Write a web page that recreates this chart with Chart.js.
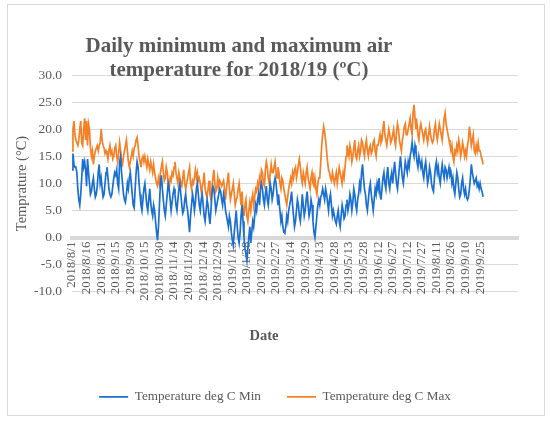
<!DOCTYPE html>
<html>
<head>
<meta charset="utf-8">
<script src="https://cdn.jsdelivr.net/npm/chart.js@4.4.0/dist/chart.umd.min.js"></script>
<style>
  html, body { margin: 0; padding: 0; background: #fff; }
</style>
</head>
<body>
<canvas id="chart" width="550" height="421"></canvas>
<script>
// labels shown every 15th day on the category axis
const tickLabels = ['2018/8/1', '2018/8/16', '2018/8/31', '2018/9/15', '2018/9/30', '2018/10/15', '2018/10/30',
    '2018/11/14', '2018/11/29', '2018/12/14', '2018/12/29', '2019/1/13', '2019/1/28', '2019/2/12', '2019/2/27',
    '2019/3/14', '2019/3/29', '2019/4/13', '2019/4/28', '2019/5/13', '2019/5/28', '2019/6/12', '2019/6/27',
    '2019/7/12', '2019/7/27', '2019/8/11', '2019/8/26', '2019/9/10', '2019/9/25']

// daily values from 2018/8/1 (15 days per row)
const minTemp = [
    12.5, 15.5, 13.5, 13, 13, 12, 9, 7, 6, 8, 11, 14.5, 13, 14, 12.5,
    9.5, 14.5, 12, 10, 8, 8.5, 10, 11, 9, 7.5, 8, 9.5, 12, 13.5, 10,
    11, 9, 7.5, 8, 10, 12, 13, 11, 9, 8, 7.5, 8, 9.5, 11, 12,
    11.5, 12.5, 10, 9, 14, 15, 12, 10, 8, 7, 6.5, 8, 10, 9, 11,
    12, 10, 8, 6, 5.5, 9, 12, 14, 13, 10, 8, 6, 5, 7, 9,
    10, 8, 6, 5, 7, 9, 6.5, 5, 4, 6, 5, 3, 1, -0.5, 2,
    6, 10, 11.5, 9, 7, 5, 4, 6, 8, 10, 9, 7, 5, 6.5, 8,
    9, 8, 6, 5, 7, 9, 10, 8, 6, 4.5, 5, 7, 8, 6, 5,
    3, 1, 4, 6, 8, 7, 5, 6.5, 9, 10, 8, 6, 5, 7, 8,
    6, 4, 3, 5, 7, 6, 4, 2.5, 5, 8, 9.5, 9, 7, 5, 6,
    7, 8, 9, 8.5, 7, 6, 8, 7, 5, 4, 3, 2, 4, 3, 1,
    -0.5, -1.5, 1, 3, 5, 2, 0, -1, 1, 4, 6, 3, 0, -2, -3,
    -4.3, -2, 0, 2, -1, 1, 3, 2, 4, 6, 5, 7, 8, 6, 9,
    10, 9, 7, 6, 8, 9.5, 7, 6, 8, 10, 9, 7, 8, 10, 11,
    10, 8, 6, 7, 5, 3, 4, 2, 1, 0.8, 2, 4, 3, 5, 6,
    7, 8.5, 6, 4, 2, 3, 5, 7, 6, 4, 3, 5, 8, 6, 4,
    5, 7, 8.5, 6, 4, 5, 7, 6, 3, 1, 0, 2, 4, 6, 7,
    6, 7.5, 8, 9, 8, 7, 9, 8, 6.5, 5, 7, 8, 6, 4, 5,
    4, 3, 2.5, 4, 5, 3, 2, 4, 6, 5, 3.5, 4, 6, 7, 5,
    6, 8, 7, 5, 6.5, 9, 8, 6, 5, 7, 8, 10, 9, 12, 13.5,
    11, 9, 8, 6, 5, 7, 9, 10, 8, 6.5, 5, 7, 9, 8, 10,
    9, 11, 8, 7, 9, 11, 12, 10, 9, 11.5, 13, 10, 9, 11, 12,
    10, 12, 14, 12, 10, 9, 11, 13, 15, 13, 11, 10, 12, 14, 13,
    12, 14, 13, 15, 16, 17.5, 16, 15, 17, 16, 14, 13, 15, 14, 13,
    14, 12, 11, 13, 14, 12, 10, 11, 13, 12, 10, 9, 8.5, 11, 13,
    14, 12, 13, 11, 10, 12, 13.5, 12, 11, 13, 12.5, 11, 12, 13, 11.5,
    12, 10, 11, 9, 8, 10, 12, 11, 9, 7.5, 8, 10, 11, 9, 8,
    9, 7.5, 7, 7.5, 9, 11, 13.5, 12, 11, 10, 10.5, 11, 9.5, 10, 9,
    10, 9, 8.5, 7.5
]
const maxTemp = [
    16, 20, 21.5, 19, 18, 17.5, 17, 18, 20, 21.5, 17.5, 17, 20, 22, 18,
    21.5, 17, 21, 20, 16.5, 15, 16, 13.5, 15, 16, 16.5, 17, 16, 17, 17.5,
    20, 18, 17, 16.5, 15.5, 16, 15.5, 14.5, 16, 17, 15.5, 16, 14.5, 15, 16.5,
    17, 15, 14, 15.5, 17.5, 16, 14, 13.5, 15, 16, 17, 18, 16, 14, 13,
    14, 15, 16, 15, 16.5, 17, 18, 18.5, 17, 15, 14, 13, 14.5, 15, 14,
    15, 14, 13, 14.5, 13.5, 12.5, 14, 13, 12, 13.5, 12, 11, 10, 9.5, 11,
    10, 12, 13, 14, 12, 10.5, 11, 13, 12, 10, 9, 11, 10.5, 12, 11.5,
    13, 14, 12, 11, 10, 12, 11, 10, 9.5, 11, 12.5, 10, 9, 10, 11,
    12, 13, 10, 9, 10.5, 10, 11, 12.5, 11, 12, 10.5, 11, 10, 8.5, 9.5,
    10, 12, 9, 8, 7.5, 9, 10.5, 8, 7, 9, 11, 12.5, 10, 8.5, 9,
    11, 9.5, 10.5, 10, 9.5, 10, 10.5, 9, 7, 9, 10.5, 12, 9, 7, 8,
    9, 10, 8, 6, 7, 7.5, 9, 10, 8, 6, 8.5, 5, 4, 6, 7,
    4, 3, 5, 6.5, 5, 7, 8, 6, 7.5, 9, 8.5, 10, 9, 11, 10,
    12.5, 12, 10, 9.5, 12.5, 14, 13, 11, 10, 12, 13.5, 12, 12, 13, 14,
    12, 11, 13, 12, 10, 9, 11, 10.5, 9, 8, 7, 6, 7.5, 9, 10,
    11, 10, 12, 11, 12.5, 13, 11, 12, 13.5, 14.5, 13, 11, 10, 12, 11,
    10, 12, 13, 11, 10, 9, 11, 12, 10, 9.5, 11, 9, 8, 10, 11,
    11, 14, 17, 19, 20.5, 19.5, 18, 16, 14, 12.5, 12, 11, 10.5, 12, 11,
    10, 11, 12, 10, 11.5, 13, 12, 11, 10, 12, 11, 13, 15, 17, 16,
    15, 17, 16, 14, 15, 16.5, 18, 15, 14.5, 16, 17, 15, 16, 18, 17.5,
    16, 15, 17, 18, 16, 15, 16.5, 17, 15.5, 16, 17.5, 18, 16, 15, 17,
    17, 18, 19, 17.5, 18, 20, 21.5, 19, 18, 17, 18.5, 20, 19, 17.5, 18,
    19, 20, 18, 17, 19.5, 21, 20, 18, 17, 16, 18, 19, 20.5, 21, 19,
    19, 20, 21, 22, 20, 19, 23, 24.5, 22, 20, 21, 19, 18, 20, 21,
    20, 19, 18, 19.5, 20, 18.5, 17.5, 19, 20.5, 19, 18, 17.5, 18, 20, 21,
    19, 18, 19.5, 21, 20, 19, 18, 20, 22, 23, 21, 20, 19, 18, 17,
    16, 17, 15, 14, 16, 15.5, 17, 16, 18, 17, 15, 16, 17.5, 16.5, 15,
    16, 15, 17, 18, 20.5, 19, 17, 18, 19, 16, 15.5, 17, 16, 17.5, 16,
    16, 15, 14.5, 13.5
]

// the category axis runs on past the last reading, as in the original
const slotCount = 460
const labels = Array.from({length: slotCount}, (_, i) => i)

const grey = '#595959'
const serif = "'Liberation Serif', 'Times New Roman', serif"

const extras = {
    id: 'extras',
    beforeDraw(chart) {
        const ctx = chart.ctx
        ctx.save()
        ctx.strokeStyle = '#d9d9d9'
        ctx.lineWidth = 1
        ctx.strokeRect(7.5, 4.5, 537, 411)
        ctx.restore()
    },
    afterDraw(chart) {
        const ctx = chart.ctx
        ctx.save()
        ctx.fillStyle = grey
        ctx.textAlign = 'center'
        ctx.font = 'bold 21px ' + serif
        ctx.fillText('Daily minimum and maximum air', 239, 47)
        ctx.fillText('temperature for 2018/19 (ºC)', 239, 71)

        ctx.font = 'bold 14.5px ' + serif
        ctx.fillText('Date', 264, 336)

        ctx.translate(22, 183.5)
        ctx.rotate(-Math.PI / 2)
        ctx.textBaseline = 'middle'
        ctx.font = '14.5px ' + serif
        ctx.fillText('Temprature (°C)', 0, 0)
        ctx.restore()
    }
}

const chart = new Chart(document.getElementById('chart'), {
    type: 'line',
    data: {
        labels: labels,
        datasets: [{
            label: 'Temperature deg C Min',
            data: minTemp,
            borderColor: '#1a6fd1',
            backgroundColor: '#1a6fd1',
            borderWidth: 1.7,
            pointRadius: 0,
            tension: 0
        }, {
            label: 'Temperature deg C Max',
            data: maxTemp,
            borderColor: '#f58025',
            backgroundColor: '#f58025',
            borderWidth: 1.7,
            pointRadius: 0,
            tension: 0
        }]
    },
    options: {
        responsive: false,
        animation: false,
        layout: {padding: {top: 75, right: 32, bottom: 7.5, left: 32}},
        plugins: {
            tooltip: {enabled: false},
            legend: {
                position: 'bottom',
                labels: {
                    usePointStyle: true,
                    pointStyle: 'line',
                    pointStyleWidth: 29,
                    padding: 26,
                    color: grey,
                    font: {family: serif, size: 13.2}
                }
            }
        },
        scales: {
            x: {
                position: {y: 0},
                grid: {display: false, drawTicks: false},
                border: {color: '#d9d9d9', width: 4},
                ticks: {
                    autoSkip: false,
                    minRotation: 90,
                    maxRotation: 90,
                    padding: 4,
                    color: grey,
                    font: {family: serif, size: 13},
                    callback: (v, i) => (i % 15 === 0 && tickLabels[i / 15]) ? tickLabels[i / 15] : ''
                }
            },
            gap: {
                type: 'category',
                position: 'bottom',
                labels: [''],
                grid: {display: false, drawTicks: false},
                border: {display: false},
                ticks: {display: false},
                afterFit(scale) { scale.height = 72.5 }
            },
            y: {
                min: -10,
                max: 30,
                grid: {color: '#d9d9d9', drawTicks: false},
                border: {display: false},
                ticks: {
                    stepSize: 5,
                    padding: 10,
                    color: grey,
                    font: {family: serif, size: 13.5},
                    callback: v => v.toFixed(1)
                },
                afterFit(scale) { scale.width = 40 }
            }
        }
    },
    plugins: [extras]
})
</script>
</body>
</html>
